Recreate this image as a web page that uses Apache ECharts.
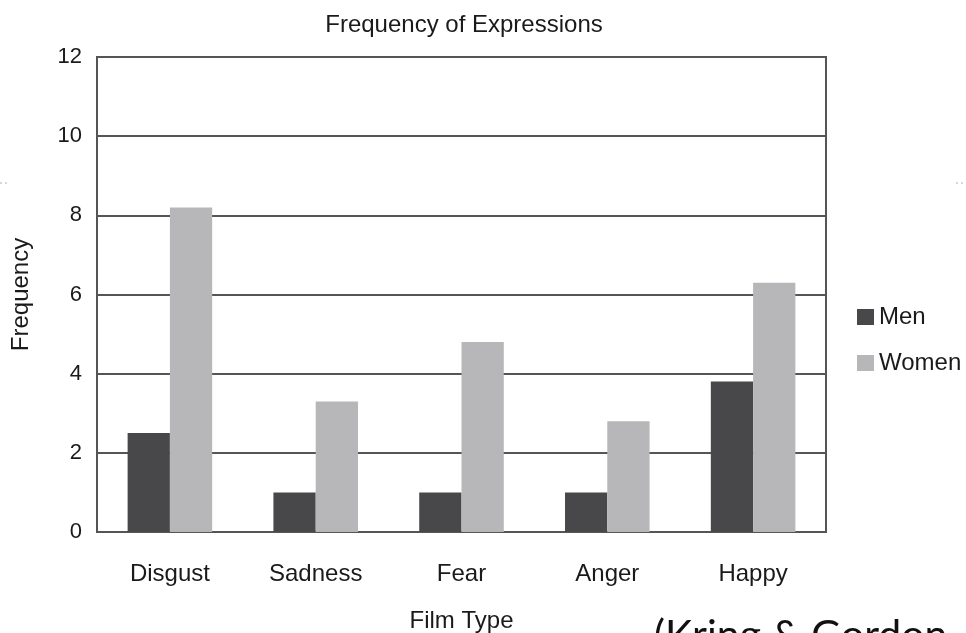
<!DOCTYPE html>
<html>
<head>
<meta charset="utf-8">
<script src="https://cdn.jsdelivr.net/npm/echarts@6/dist/echarts.min.js"></script>
<style>
  html, body { margin: 0; padding: 0; background: #fff; }
  #chart { width: 966px; height: 633px; }
</style>
</head>
<body>
<div id="chart"></div>
<script>
// 数据
const filmTypes = ['Disgust', 'Sadness', 'Fear', 'Anger', 'Happy']
const menValues = [2.5, 1, 1, 1, 3.8]
const womenValues = [8.2, 3.3, 4.8, 2.8, 6.3]
const seriesNames = ['Men', 'Women']

const font = 'Liberation Sans, Arial, sans-serif'
const chart = echarts.init(document.getElementById('chart'))

chart.setOption({
  backgroundColor: '#fff',
  animation: false,
  title: {
    text: 'Frequency of Expressions',
    left: 459, top: 8, textAlign: 'center',
    textStyle: { fontFamily: font, fontSize: 24, fontWeight: 'normal', color: '#1a1a1a' }
  },
  legend: {
    data: seriesNames,
    orient: 'vertical',
    left: 852, top: 300,
    itemWidth: 17, itemHeight: 16, itemGap: 22,
    icon: 'rect',
    textStyle: { fontFamily: font, fontSize: 24, color: '#1a1a1a', lineHeight: 16 }
  },
  grid: {
    left: 97, right: 140, top: 57, bottom: 101,
    outerBoundsMode: 'none',
    show: true, borderColor: '#555', borderWidth: 2
  },
  xAxis: {
    type: 'category',
    data: filmTypes,
    name: 'Film Type',
    nameLocation: 'middle',
    nameGap: 77,
    nameTextStyle: { fontFamily: font, fontSize: 24, color: '#1a1a1a' },
    axisLine: { lineStyle: { color: '#555', width: 2 } },
    axisTick: { show: false },
    axisLabel: { fontFamily: font, fontSize: 24, color: '#1a1a1a', margin: 30 }
  },
  yAxis: {
    type: 'value',
    min: 0, max: 12, interval: 2,
    name: 'Frequency',
    nameLocation: 'middle',
    nameGap: 64,
    nameRotate: 90,
    nameTextStyle: { fontFamily: font, fontSize: 24, color: '#1a1a1a' },
    axisLine: { show: true, lineStyle: { color: '#555', width: 2 } },
    axisTick: { show: false },
    axisLabel: { fontFamily: font, fontSize: 22, color: '#1a1a1a', margin: 15 },
    splitLine: { lineStyle: { color: '#555', width: 2 } }
  },
  series: [
    {
      name: seriesNames[0], type: 'bar', data: menValues,
      barGap: '0%', barCategoryGap: '42%',
      itemStyle: { color: '#48484a' }
    },
    {
      name: seriesNames[1], type: 'bar', data: womenValues,
      barGap: '0%', barCategoryGap: '42%',
      itemStyle: { color: '#b7b7b9' }
    }
  ],
  graphic: [
    {
      type: 'text', left: 654, top: 615,
      style: { text: '(Kring & Gordon', fontFamily: 'Lato, sans-serif', fontSize: 41, fill: '#111' }
    },
    {
      type: 'line', shape: { x1: 0, y1: 183, x2: 10, y2: 183 },
      style: { stroke: '#9fb3cc', lineWidth: 1, lineDash: [2, 3] }
    },
    {
      type: 'line', shape: { x1: 956, y1: 183, x2: 966, y2: 183 },
      style: { stroke: '#9fb3cc', lineWidth: 1, lineDash: [2, 3] }
    }
  ]
})
</script>
</body>
</html>
